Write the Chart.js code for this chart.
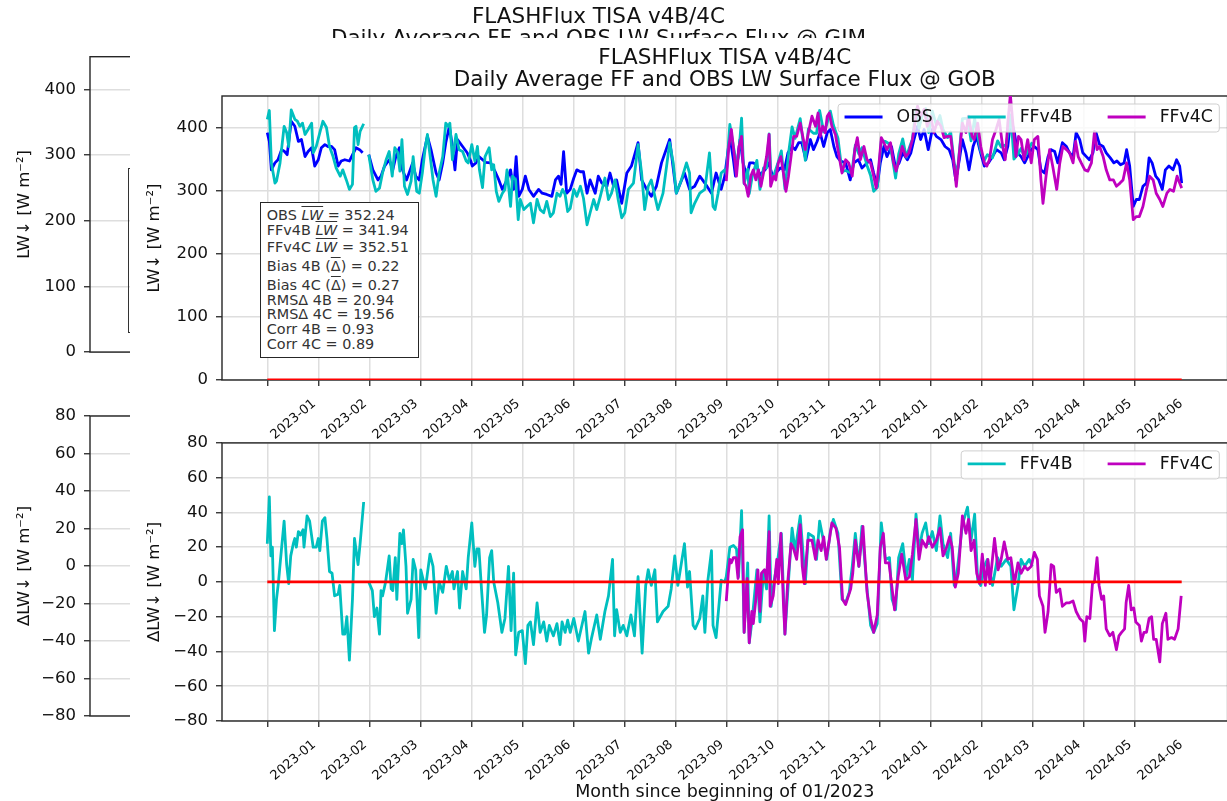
<!DOCTYPE html>
<html>
<head>
<meta charset="utf-8">
<script src="https://cdn.jsdelivr.net/npm/chart.js@4.4.1/dist/chart.umd.min.js"></script>
<style>
  html, body { margin:0; padding:0; background:#fff; overflow:hidden; width:1227px; height:801px;
    font-family:"DejaVu Sans", sans-serif; }
  canvas { position:absolute; display:block; }
  #gimBox { position:absolute; left:128px; top:168px; width:170px; height:165px; box-sizing:border-box;
    border:1.5px solid #333; }
  #gobFig { position:absolute; left:130px; top:38.3px; width:1110px; height:780px; background:#fff; overflow:hidden; }
  #stats { position:absolute; left:130px; top:163.4px; width:158.7px; height:156px; box-sizing:border-box;
    border:1.5px solid #262626; background:#fff; color:#333; font-size:14.4px; }
  #stats .sl { position:absolute; left:5.8px; line-height:16px; white-space:nowrap; }
  .ov { text-decoration:overline; }
  .it { font-style:italic; }
</style>
</head>
<body>
<!-- GIM station figure (underneath) -->
<canvas id="gimTop" width="1120" height="370" style="left:0;top:0"></canvas>
<canvas id="gimBottom" width="1120" height="400" style="left:0;top:380px"></canvas>
<div id="gimBox"></div>

<!-- GOB station figure -->
<div id="gobFig">
  <canvas id="gobTop" width="1110" height="410" style="left:0;top:-0.3px"></canvas>
  <canvas id="gobBottom" width="1110" height="376" style="left:0;top:386.7px"></canvas>
  <div id="stats">
    <div class="sl" style="top:3.9px">OBS <span class="ov it">LW</span> = 352.24</div>
    <div class="sl" style="top:19.6px">FFv4B <span class="ov it">LW</span> = 341.94</div>
    <div class="sl" style="top:36.6px">FFv4C <span class="ov it">LW</span> = 352.51</div>
    <div class="sl" style="top:55.6px">Bias 4B (<span class="ov">Δ</span>) = 0.22</div>
    <div class="sl" style="top:73.9px">Bias 4C (<span class="ov">Δ</span>) = 0.27</div>
    <div class="sl" style="top:89.2px">RMSΔ 4B = 20.94</div>
    <div class="sl" style="top:103.2px">RMSΔ 4C = 19.56</div>
    <div class="sl" style="top:118.2px">Corr 4B = 0.93</div>
    <div class="sl" style="top:132.9px">Corr 4C = 0.89</div>
  </div>
</div>

<script>
// ---- axis ticks and labels ----
const monthTicks = [0,1,2,3,4,5,6,7,8,9,10,11,12,13,14,15,16,17];
const monthLabels = ['2023-01','2023-02','2023-03','2023-04','2023-05','2023-06','2023-07','2023-08','2023-09',
  '2023-10','2023-11','2023-12','2024-01','2024-02','2024-03','2024-04','2024-05','2024-06'];
const lwTicks = [0,100,200,300,400];
const dlwTicks = [-80,-60,-40,-20,0,20,40,60,80];

// ---- daily series: [months since 01/2023, W m-2]; null marks a data gap ----
const obsLW = [
  [0.00,392],[0.04,378],[0.08,333],[0.15,344],[0.21,349],[0.28,365],[0.34,362],[0.39,357],[0.47,410],[0.54,402],
  [0.61,378],[0.67,381],[0.74,354],[0.80,362],[0.87,368],[0.93,339],[1.00,349],[1.06,368],[1.13,373],[1.19,370],
  [1.26,370],[1.32,365],[1.39,339],[1.45,347],[1.52,349],[1.61,347],[1.74,368],[1.81,365],[1.87,360],[1.93,null],
  [1.99,357],[2.07,333],[2.17,317],[2.23,323],[2.30,339],[2.39,349],[2.46,333],[2.52,354],[2.59,368],[2.65,333],
  [2.73,317],[2.78,328],[2.85,344],[2.91,323],[2.98,317],[3.04,349],[3.14,386],[3.21,365],[3.31,328],[3.37,317],
  [3.44,344],[3.50,376],[3.57,402],[3.63,370],[3.68,333],[3.73,381],[3.83,370],[3.92,360],[3.99,347],[4.02,339],
  [4.09,344],[4.15,354],[4.28,345],[4.38,344],[4.48,328],[4.54,317],[4.61,302],[4.70,317],[4.77,333],[4.83,302],
  [4.88,354],[4.93,291],[5.00,302],[5.06,323],[5.13,302],[5.22,291],[5.32,302],[5.39,296],[5.48,294],[5.58,291],
  [5.65,317],[5.71,323],[5.76,310],[5.81,362],[5.87,296],[5.94,302],[6.01,320],[6.07,333],[6.14,330],[6.20,330],
  [6.27,296],[6.33,317],[6.43,296],[6.49,323],[6.56,312],[6.66,307],[6.72,328],[6.79,307],[6.85,317],[6.95,280],
  [7.05,328],[7.14,339],[7.27,376],[7.34,317],[7.44,302],[7.53,291],[7.63,307],[7.73,344],[7.89,381],[8.02,296],
  [8.18,328],[8.28,302],[8.38,307],[8.48,323],[8.58,312],[8.71,296],[8.80,328],[8.90,302],[8.97,323],
  [9.07,386],[9.14,349],[9.18,323],[9.27,381],[9.33,344],[9.40,323],[9.46,344],[9.53,344],[9.59,341],[9.66,325],
  [9.76,333],[9.83,344],[9.91,323],[9.97,328],[10.06,336],[10.14,333],[10.21,360],[10.29,370],[10.35,365],[10.42,376],
  [10.48,376],[10.56,349],[10.65,381],[10.71,365],[10.78,378],[10.84,392],[10.91,370],[10.98,392],[11.04,397],[11.11,370],
  [11.17,354],[11.24,347],[11.34,344],[11.43,317],[11.50,344],[11.59,349],[11.66,336],[11.76,344],[11.83,349],[11.89,328],
  [11.96,307],[12.02,344],[12.09,370],[12.15,354],[12.24,370],[12.32,336],[12.39,344],[12.46,360],[12.55,349],[12.62,360],
  [12.68,381],[12.75,402],[12.81,381],[12.88,397],[12.96,365],[13.04,397],[13.12,386],[13.21,381],[13.29,370],[13.37,365],
  [13.44,349],[13.50,317],[13.57,349],[13.63,381],[13.70,360],[13.76,333],[13.84,370],[13.91,386],[13.97,365],[14.06,339],
  [14.14,344],[14.22,354],[14.30,365],[14.39,360],[14.45,349],[14.52,370],[14.58,415],[14.65,392],[14.71,360],[14.78,354],
  [14.85,344],[14.91,354],[14.98,365],[15.04,370],[15.11,365],[15.17,333],[15.24,328],[15.31,354],[15.37,365],[15.44,362],
  [15.50,344],[15.59,376],[15.67,370],[15.73,360],[15.80,354],[15.86,392],[15.93,381],[15.99,360],[16.06,354],[16.12,349],
  [16.19,360],[16.25,392],[16.32,373],[16.39,370],[16.45,360],[16.53,352],[16.60,344],[16.66,347],[16.73,341],[16.80,344],
  [16.85,365],[16.91,339],[16.98,275],[17.04,286],[17.10,286],[17.17,307],[17.24,312],[17.29,352],[17.35,344],[17.42,323],
  [17.48,317],[17.55,302],[17.61,333],[17.68,339],[17.76,333],[17.83,349],[17.89,339],[17.93,312]
];

const ff4bLW = [
  [0.00,413],[0.04,427],[0.08,344],[0.15,312],[0.18,315],[0.25,344],[0.33,402],[0.38,392],[0.42,370],[0.47,428],
  [0.54,413],[0.59,410],[0.64,402],[0.69,407],[0.74,389],[0.80,397],[0.87,407],[0.90,360],[0.96,370],[1.03,392],
  [1.09,410],[1.16,400],[1.22,370],[1.29,354],[1.35,336],[1.43,323],[1.48,333],[1.55,317],[1.61,302],[1.67,310],
  [1.71,400],[1.74,402],[1.78,373],[1.82,394],[1.89,406],[1.93,null],
  [1.99,357],[2.07,317],[2.13,299],[2.20,304],[2.26,328],[2.33,349],[2.39,362],[2.45,323],[2.50,368],[2.56,360],
  [2.60,331],[2.64,381],[2.69,307],[2.75,294],[2.82,315],[2.86,354],[2.93,299],[2.98,296],[3.04,328],[3.10,370],
  [3.14,389],[3.21,344],[3.25,317],[3.31,291],[3.37,328],[3.44,354],[3.50,407],[3.55,402],[3.58,407],[3.63,349],
  [3.70,389],[3.76,365],[3.83,362],[3.90,347],[3.94,344],[4.01,373],[4.07,347],[4.12,370],[4.16,333],[4.22,305],
  [4.27,354],[4.35,368],[4.40,333],[4.44,341],[4.49,299],[4.54,283],[4.61,296],[4.66,302],[4.70,333],[4.77,275],
  [4.81,323],[4.87,317],[4.92,254],[4.96,286],[5.03,270],[5.09,275],[5.16,280],[5.22,249],[5.29,286],[5.35,270],
  [5.42,265],[5.48,283],[5.55,259],[5.61,265],[5.68,296],[5.74,291],[5.79,302],[5.84,294],[5.89,267],[5.94,272],
  [6.01,302],[6.07,291],[6.14,307],[6.20,288],[6.27,246],[6.33,265],[6.40,286],[6.46,270],[6.53,291],[6.62,320],
  [6.69,286],[6.75,296],[6.82,317],[6.88,286],[6.95,257],[7.01,265],[7.08,302],[7.18,312],[7.27,373],[7.34,328],
  [7.40,270],[7.47,307],[7.53,317],[7.60,291],[7.66,270],[7.76,296],[7.89,376],[7.96,344],[8.02,296],[8.12,317],
  [8.22,344],[8.28,328],[8.31,265],[8.38,280],[8.48,296],[8.58,302],[8.67,360],[8.74,275],[8.78,270],[8.84,296],
  [8.90,328],[8.97,333],
  [9.00,326],[9.07,405],[9.14,370],[9.20,342],[9.24,353],[9.30,415],[9.35,311],[9.42,334],[9.45,295],[9.51,323],
  [9.60,348],[9.66,302],[9.73,336],[9.79,336],[9.84,390],[9.88,316],[9.94,326],[10.01,343],[10.08,363],[10.15,303],
  [10.23,365],[10.29,401],[10.35,383],[10.45,414],[10.55,348],[10.61,398],[10.71,391],[10.77,391],[10.83,427],[10.91,393],
  [10.97,405],[11.04,426],[11.10,404],[11.19,383],[11.27,330],[11.34,332],[11.41,329],[11.47,334],[11.53,372],[11.60,358],
  [11.66,368],[11.76,340],[11.83,324],[11.89,299],[11.96,305],[12.04,379],[12.12,378],[12.20,374],[12.25,355],[12.32,320],
  [12.38,358],[12.46,382],[12.53,353],[12.59,368],[12.65,382],[12.72,429],[12.78,399],[12.84,418],[12.91,430],[12.97,392],
  [13.04,426],[13.12,404],[13.19,419],[13.25,397],[13.34,384],[13.40,393],[13.47,343],[13.53,327],[13.63,414],[13.73,415],
  [13.80,379],[13.87,414],[13.93,387],[13.99,363],[14.06,348],[14.12,357],[14.22,352],[14.32,379],[14.39,369],[14.49,373],
  [14.58,420],[14.64,350],[14.72,358],[14.78,367],[14.85,353],[14.94,367],[15.00,377]
];

const ff4cLW = [
  [9.00,315],[9.05,370],[9.10,397],[9.16,354],[9.20,323],[9.25,370],[9.30,386],[9.35,312],[9.39,307],[9.43,291],
  [9.48,323],[9.53,333],[9.58,317],[9.63,333],[9.68,307],[9.73,328],[9.79,354],[9.84,389],[9.87,307],[9.93,323],
  [9.97,317],[10.02,344],[10.07,354],[10.12,328],[10.17,299],[10.22,323],[10.27,354],[10.32,386],[10.38,386],[10.45,407],
  [10.50,386],[10.55,365],[10.61,392],[10.68,418],[10.75,402],[10.80,423],[10.84,386],[10.89,402],[10.94,392],[10.98,418],
  [11.02,423],[11.07,402],[11.14,389],[11.20,360],[11.27,328],[11.34,349],[11.40,344],[11.47,323],[11.52,365],[11.57,384],
  [11.63,349],[11.70,370],[11.76,349],[11.83,344],[11.89,323],[11.94,304],[11.99,339],[12.04,384],[12.09,376],[12.15,365],
  [12.22,376],[12.28,344],[12.33,331],[12.39,349],[12.45,370],[12.52,354],[12.58,360],[12.65,381],[12.70,407],[12.75,434],
  [12.81,418],[12.88,429],[12.94,402],[13.01,418],[13.07,392],[13.14,410],[13.21,402],[13.27,384],[13.34,386],[13.40,386],
  [13.47,339],[13.51,307],[13.57,360],[13.63,407],[13.70,392],[13.75,418],[13.82,386],[13.86,381],[13.93,407],[13.99,370],
  [14.06,344],[14.11,339],[14.16,349],[14.22,381],[14.29,397],[14.35,413],[14.42,370],[14.47,349],[14.52,407],[14.57,452],
  [14.63,397],[14.68,354],[14.73,386],[14.78,381],[14.84,349],[14.91,381],[14.98,344],[15.04,381],[15.11,386],[15.17,317],
  [15.21,280],[15.27,323],[15.34,365],[15.40,339],[15.48,302],[15.54,344],[15.60,370],[15.67,365],[15.73,360],[15.80,344],
  [15.85,378],[15.90,354],[15.96,344],[16.03,333],[16.09,331],[16.16,344],[16.22,394],[16.27,365],[16.32,370],[16.39,354],
  [16.45,333],[16.52,317],[16.59,317],[16.65,307],[16.72,312],[16.78,317],[16.85,344],[16.91,317],[16.98,254],[17.04,259],
  [17.10,259],[17.17,275],[17.24,302],[17.30,323],[17.37,317],[17.43,296],[17.50,286],[17.56,275],[17.64,296],[17.70,302],
  [17.77,299],[17.84,323],[17.89,312],[17.93,304]
];

const dLW4b = [
  [0.00,22],[0.04,49],[0.07,15],[0.10,20],[0.14,-28],[0.18,-10],[0.22,0],[0.25,10],[0.33,35],[0.38,10],
  [0.42,-1],[0.46,15],[0.51,22],[0.54,25],[0.57,20],[0.61,29],[0.65,27],[0.70,30],[0.72,20],[0.78,38],
  [0.83,35],[0.90,20],[0.96,20],[1.00,25],[1.03,18],[1.08,35],[1.13,37],[1.17,25],[1.22,6],[1.27,5],
  [1.32,-8],[1.39,-7],[1.42,-2],[1.48,-30],[1.52,-30],[1.56,-20],[1.61,-45],[1.67,-10],[1.71,25],[1.78,10],
  [1.82,22],[1.89,46],[1.93,null],
  [1.99,0],[2.06,-5],[2.10,-20],[2.15,-15],[2.20,-30],[2.23,-5],[2.26,-8],[2.32,0],[2.39,15],[2.43,-4],
  [2.46,-5],[2.51,14],[2.54,-10],[2.60,28],[2.64,22],[2.67,30],[2.72,9],[2.75,-18],[2.82,-10],[2.86,13],
  [2.91,7],[2.97,-32],[3.01,7],[3.10,-4],[3.19,16],[3.25,9],[3.31,-18],[3.37,0],[3.44,-6],[3.51,9],
  [3.57,1],[3.63,6],[3.66,-4],[3.73,6],[3.77,-15],[3.83,6],[3.90,-4],[3.94,14],[4.01,34],[4.07,9],
  [4.11,19],[4.15,19],[4.20,-4],[4.26,-29],[4.30,-19],[4.36,14],[4.40,18],[4.44,0],[4.52,-12],[4.60,-29],
  [4.66,-21],[4.73,9],[4.78,-28],[4.83,5],[4.87,-42],[4.93,-29],[5.00,-28],[5.06,-47],[5.11,-25],[5.16,-23],
  [5.22,-36],[5.29,-12],[5.35,-29],[5.42,-23],[5.48,-34],[5.53,-25],[5.61,-31],[5.68,-24],[5.74,-36],[5.78,-23],
  [5.84,-29],[5.89,-22],[5.94,-29],[6.01,-21],[6.10,-34],[6.23,-17],[6.30,-41],[6.36,-32],[6.46,-19],[6.53,-33],
  [6.62,-17],[6.69,-8],[6.77,13],[6.81,-31],[6.85,-16],[6.92,-29],[6.98,-25],[7.05,-31],[7.13,-19],[7.20,-31],
  [7.27,3],[7.35,-41],[7.42,-2],[7.47,7],[7.53,-2],[7.60,7],[7.65,-23],[7.76,-17],[7.86,-14],[7.92,-4],
  [7.99,15],[8.05,-2],[8.18,22],[8.24,-3],[8.28,6],[8.35,-25],[8.39,-27],[8.48,-21],[8.54,-8],[8.58,-29],
  [8.64,1],[8.71,18],[8.74,-25],[8.80,-32],[8.90,1],[8.97,0],
  [9.00,3],[9.07,20],[9.14,21],[9.20,19],[9.24,3],[9.30,41],[9.35,-29],[9.42,11],[9.45,-35],[9.51,-21],
  [9.60,7],[9.66,-23],[9.73,6],[9.79,-4],[9.84,38],[9.88,-14],[9.94,1],[10.01,13],[10.08,28],[10.15,-30],
  [10.23,5],[10.29,31],[10.35,18],[10.45,38],[10.55,-1],[10.61,28],[10.71,26],[10.77,13],[10.83,35],[10.91,23],
  [10.97,13],[11.04,29],[11.10,36],[11.19,28],[11.27,-10],[11.34,-12],[11.41,-6],[11.47,9],[11.53,28],[11.60,9],
  [11.66,32],[11.76,-4],[11.83,-25],[11.89,-29],[11.96,-24],[12.04,34],[12.12,13],[12.20,14],[12.25,-10],[12.32,-16],
  [12.38,14],[12.46,22],[12.53,3],[12.59,13],[12.65,1],[12.72,39],[12.78,18],[12.84,28],[12.91,34],[12.97,22],
  [13.04,29],[13.12,18],[13.19,38],[13.25,22],[13.34,14],[13.40,28],[13.47,-2],[13.53,7],[13.63,33],[13.73,43],
  [13.80,24],[13.87,39],[13.93,1],[13.99,-2],[14.06,9],[14.12,13],[14.22,-2],[14.32,14],[14.39,9],[14.49,13],
  [14.58,9],[14.64,-16],[14.72,-2],[14.78,13],[14.85,9],[14.94,13],[15.00,9]
];

const dLW4c = [
  [9.00,-11],[9.04,5],[9.07,13],[9.10,11],[9.14,14],[9.19,14],[9.23,2],[9.27,26],[9.32,30],[9.35,-29],
  [9.41,2],[9.45,-35],[9.50,-17],[9.53,-24],[9.58,-10],[9.62,7],[9.66,-17],[9.69,5],[9.75,7],[9.79,1],
  [9.84,29],[9.86,-14],[9.92,-8],[9.99,13],[10.02,-1],[10.07,28],[10.12,-12],[10.15,-30],[10.20,-2],[10.27,22],
  [10.32,19],[10.38,13],[10.45,33],[10.49,9],[10.53,-1],[10.60,24],[10.68,24],[10.75,13],[10.80,24],[10.86,18],
  [10.91,26],[10.96,13],[11.02,24],[11.07,34],[11.15,31],[11.22,20],[11.28,-10],[11.34,-13],[11.44,-4],[11.48,5],
  [11.53,24],[11.60,9],[11.68,32],[11.76,-6],[11.83,-21],[11.89,-29],[11.96,-19],[12.02,20],[12.08,28],[12.12,11],
  [12.19,11],[12.24,-1],[12.30,-16],[12.37,3],[12.44,16],[12.52,1],[12.59,3],[12.65,16],[12.72,36],[12.78,13],
  [12.84,24],[12.92,20],[12.97,26],[13.04,20],[13.12,24],[13.19,31],[13.25,15],[13.32,20],[13.38,26],[13.43,20],
  [13.49,-3],[13.55,5],[13.63,38],[13.70,28],[13.75,36],[13.80,18],[13.86,24],[13.91,5],[13.97,-1],[14.02,16],
  [14.08,-2],[14.13,13],[14.17,-1],[14.26,25],[14.33,7],[14.39,13],[14.45,23],[14.52,13],[14.58,14],[14.65,-1],
  [14.72,11],[14.78,5],[14.85,9],[14.91,7],[14.98,9],[15.04,17],[15.10,13],[15.14,-8],[15.21,-14],[15.25,-29],
  [15.31,-17],[15.37,10],[15.42,9],[15.47,-6],[15.54,-4],[15.59,-14],[15.67,-12],[15.73,-12],[15.80,-11],[15.86,-17],
  [15.93,-21],[16.00,-23],[16.03,-34],[16.07,-20],[16.13,-21],[16.18,-1],[16.22,0],[16.27,14],[16.31,-2],[16.36,-10],
  [16.40,-8],[16.45,-27],[16.52,-31],[16.58,-29],[16.65,-39],[16.70,-31],[16.75,-29],[16.81,-27],[16.84,-12],[16.89,-2],
  [16.94,-16],[16.99,-15],[17.03,-23],[17.10,-25],[17.14,-34],[17.19,-29],[17.24,-29],[17.29,-21],[17.34,-20],[17.38,-33],
  [17.43,-33],[17.50,-46],[17.55,-24],[17.62,-18],[17.66,-33],[17.73,-32],[17.79,-33],[17.86,-27],[17.92,-8]
];

const zeroLine = [[0,0],[17.93,0]];

// ---- styling helpers ----
const FONT = '"DejaVu Sans", sans-serif';
const INK = '#111111';
const X_MIN = -0.888, X_MAX = 18.83;
const LINE_W = 2.8;
const pts = a => a.map(([x, y]) => ({ x, y }));
const signed = v => String(v).replace('-', '\u2212');

const frame = {
  id: 'frame',
  beforeDatasetsDraw(chart) {
    const { ctx, chartArea: a } = chart;
    ctx.save();
    ctx.strokeStyle = '#262626';
    ctx.lineWidth = 1.4;
    ctx.strokeRect(a.left, a.top, a.right - a.left, a.bottom - a.top);
    ctx.restore();
  }
};

// legend box in the upper-right corner of the plot area, one column per series
const boxLegend = {
  id: 'boxLegend',
  afterDatasetsDraw(chart) {
    const items = chart.data.datasets.filter(d => d.label);
    const ctx = chart.ctx;
    const handle = 38, textPad = 14, colGap = 35, pad = 6.5, h = 28;
    ctx.save();
    ctx.font = '17.3px ' + FONT;
    const widths = items.map(d => ctx.measureText(d.label).width);
    const w = pad * 2 + widths.reduce((s, v) => s + v, 0) + items.length * (handle + textPad) + colGap * (items.length - 1);
    const right = chart.chartArea.right - 8.3;
    const left = right - w, top = chart.chartArea.top + 8;
    ctx.beginPath();
    ctx.roundRect(left, top, w, h, 3);
    ctx.fillStyle = 'rgba(255,255,255,0.8)';
    ctx.fill();
    ctx.strokeStyle = '#cfcfcf';
    ctx.lineWidth = 1;
    ctx.stroke();
    let x = left + pad;
    const cy = top + 13;
    items.forEach((d, i) => {
      ctx.beginPath();
      ctx.strokeStyle = d.borderColor;
      ctx.lineWidth = d.borderWidth;
      ctx.moveTo(x, cy);
      ctx.lineTo(x + handle, cy);
      ctx.stroke();
      x += handle + textPad;
      ctx.fillStyle = INK;
      ctx.textBaseline = 'middle';
      ctx.textAlign = 'left';
      ctx.fillText(d.label, x, cy + 1);
      x += widths[i] + colGap;
    });
    ctx.restore();
  }
};

const gridStyle = { color: '#dedede', lineWidth: 1.5, tickColor: '#262626', tickLength: 6, tickWidth: 1.3 };

function xScale(height, showLabels, titleText) {
  return {
    type: 'linear', min: X_MIN, max: X_MAX, display: showLabels !== null,
    afterBuildTicks: s => { s.ticks = monthTicks.map(v => ({ value: v })); },
    afterFit: s => { s.height = height; },
    grid: gridStyle,
    border: { display: false },
    ticks: {
      autoSkip: false, minRotation: 40, maxRotation: 40, labelOffset: 47, padding: 10,
      color: INK, font: { family: FONT, size: 13 },
      callback: v => monthLabels[v]
    },
    title: titleText ? {
      display: true, text: titleText, color: INK,
      font: { family: FONT, size: 17.5, lineHeight: 1 }, padding: { top: 0, bottom: 0 }
    } : { display: false }
  };
}

function yScale(min, max, tickList, width, titleText) {
  return {
    min, max,
    afterBuildTicks: s => { s.ticks = tickList.map(v => ({ value: v })); },
    afterFit: s => { s.width = width; },
    grid: gridStyle,
    border: { display: false },
    ticks: { padding: 8, color: INK, font: { family: FONT, size: 16.5 }, callback: v => signed(v) },
    title: {
      display: true, text: titleText, color: INK,
      font: { family: FONT, size: 16.5 }, padding: { top: 15, bottom: 0 }
    }
  };
}

function titleBlock(lines, padTop, padBottom) {
  return {
    display: true, text: lines, color: INK, fullSize: false,
    font: { family: FONT, size: 21.5, weight: 'normal', lineHeight: 22 / 21.5 },
    padding: { top: padTop, bottom: padBottom }
  };
}

function lineSet(label, data, color, order) {
  return {
    label, data: pts(data), borderColor: color, backgroundColor: color,
    borderWidth: LINE_W, pointRadius: 0, tension: 0, spanGaps: false, order,
    borderJoinStyle: 'round'
  };
}
function zeroSet() {
  return { data: pts(zeroLine), borderColor: '#ff0000', borderWidth: 2.8, pointRadius: 0, order: 0 };
}

function baseOptions(padding, plugins, scales) {
  return {
    responsive: false, animation: false, devicePixelRatio: 1,
    layout: { padding },
    plugins: Object.assign({ legend: { display: false }, tooltip: { enabled: false } }, plugins),
    scales
  };
}

// ---- GIM station figure (axes only, mostly covered) ----
new Chart(document.getElementById('gimTop'), {
  type: 'line',
  data: { datasets: [] },
  options: baseOptions({ left: 0, right: 13, top: 0, bottom: 13.3 },
    { title: titleBlock(['FLASHFlux TISA v4B/4C', 'Daily Average FF and OBS LW Surface Flux @ GIM'], 6.5, 6.2) },
    { x: Object.assign(xScale(0, null), { display: false }),
      y: yScale(0, 450, lwTicks, 90, 'LW\u2193 [W m\u207B\u00B2]') }),
  plugins: [frame]
});
new Chart(document.getElementById('gimBottom'), {
  type: 'line',
  data: { datasets: [] },
  options: baseOptions({ left: 0, right: 13, top: 36, bottom: 64 }, {},
    { x: Object.assign(xScale(0, null), { display: false }),
      y: yScale(-80, 80, dlwTicks, 90, '\u0394LW\u2193 [W m\u207B\u00B2]') }),
  plugins: [frame]
});

// ---- GOB station figure ----
new Chart(document.getElementById('gobTop'), {
  type: 'line',
  data: { datasets: [
    lineSet('OBS', obsLW, '#0000ff', 3),
    lineSet('FFv4B', ff4bLW, '#00bfbf', 2),
    lineSet('FFv4C', ff4cLW, '#bf00bf', 1),
    zeroSet()
  ] },
  options: baseOptions({ left: 0, right: 12.4, top: 0, bottom: 0 },
    { title: titleBlock(['FLASHFlux TISA v4B/4C', 'Daily Average FF and OBS LW Surface Flux @ GOB'], 9, 5) },
    { x: xScale(68, true), y: yScale(0, 450, lwTicks, 92, 'LW\u2193 [W m\u207B\u00B2]') }),
  plugins: [frame, boxLegend]
});
new Chart(document.getElementById('gobBottom'), {
  type: 'line',
  data: { datasets: [
    lineSet('FFv4B', dLW4b, '#00bfbf', 2),
    lineSet('FFv4C', dLW4c, '#bf00bf', 1),
    zeroSet()
  ] },
  options: baseOptions({ left: 0, right: 12.4, top: 12, bottom: 0 }, {},
    { x: xScale(80, true, 'Month since beginning of 01/2023'),
      y: yScale(-80, 80, dlwTicks, 92, '\u0394LW\u2193 [W m\u207B\u00B2]') }),
  plugins: [frame, boxLegend]
});
</script>
</body>
</html>
